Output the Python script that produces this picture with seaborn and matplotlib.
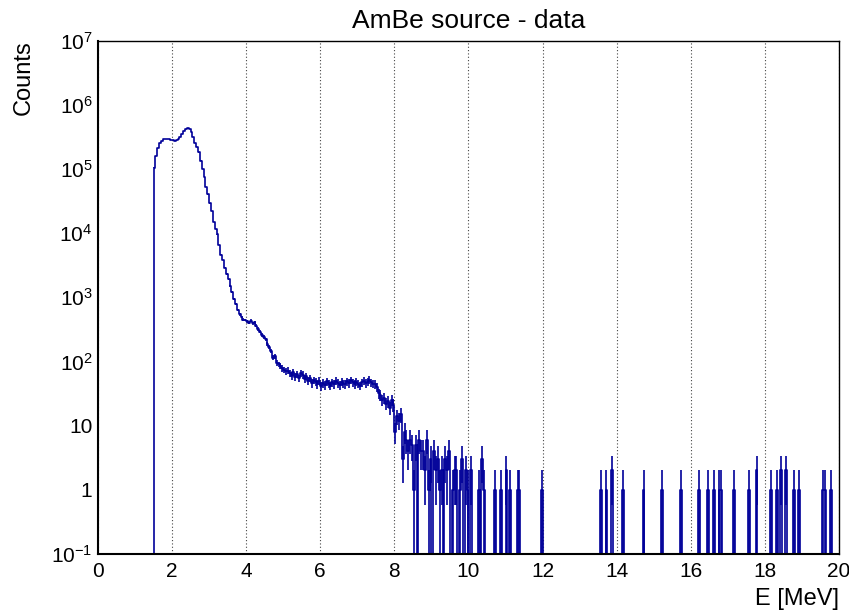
import numpy as np
import pandas as pd
import seaborn as sns
import matplotlib
matplotlib.use("Agg")
import matplotlib.pyplot as plt
from matplotlib.ticker import FixedLocator, FuncFormatter, MultipleLocator, LogLocator, NullFormatter

# ---- histogram definition ----
bin_width = 0.05          # MeV
e_min, e_max = 0.0, 20.0

# Counts in consecutive bins starting at 1.50 MeV (through 9.95 MeV)
body_start = 1.5
body_counts = [
    105000, 160000, 210000, 250000, 275000, 290000, 295000, 295000, 290000, 285000,   # 1.50-1.95
    280000, 272000, 278000, 290000, 310000, 350000, 395000, 420000, 435000, 425000,   # 2.00-2.45
    370000, 310000, 250000, 220000, 180000, 135000, 100000, 75000, 52000, 40000,      # 2.50-2.95
    29000, 22000, 15000, 11500, 9500, 6500, 4600, 3800, 2900, 2300,                   # 3.00-3.45
    1900, 1500, 1200, 950, 780, 640, 540, 490, 450, 440,                              # 3.50-3.95
    420, 400, 430, 390, 410, 360, 320, 290, 260, 240,                                 # 4.00-4.45
    220, 190, 170, 145, 115, 120, 95, 90, 86, 78,                                     # 4.50-4.95
    74, 70, 72, 66, 60, 68, 58, 63, 55, 66,                                           # 5.00-5.45
    62, 53, 59, 50, 55, 46, 51, 48, 44, 50,                                           # 5.50-5.95
    41, 46, 43, 49, 45, 42, 47, 44, 50, 46,                                           # 6.00-6.45
    43, 48, 45, 44, 49, 46, 51, 47, 44, 48,                                           # 6.50-6.95
    45, 42, 47, 50, 46, 48, 52, 47, 45, 44,                                           # 7.00-7.45
    40, 32, 30, 25, 27, 22, 24, 19, 25, 21,                                           # 7.50-7.95
    8, 14, 12, 15, 3, 8, 6, 4, 6, 5,                                                  # 8.00-8.45
    1, 5, 0, 6, 4, 4, 2, 6, 1, 3,                                                     # 8.50-8.95
    0, 4, 2, 3, 1, 2, 0, 3, 2, 4,                                                     # 9.00-9.45
    0, 1, 2, 2, 0, 1, 3, 0, 2, 1,                                                     # 9.50-9.95
]

# Sparse high-energy tail: lower bin edge (MeV) and counts
tail_energy = [10.05, 10.25, 10.35, 10.40, 10.70, 10.85, 11.00, 11.10, 11.30, 11.35,
               11.95, 13.55, 13.70, 13.85, 14.15, 14.70, 15.20, 15.70, 16.20, 16.45,
               16.60, 16.75, 16.80, 17.15, 17.55, 17.75, 18.15, 18.30, 18.40, 18.55,
               18.75, 18.90, 19.55, 19.60, 19.75]
tail_counts = [2, 1, 3, 1, 1, 1, 2, 1, 1, 1,
               1, 1, 1, 2, 1, 1, 1, 1, 1, 1,
               1, 1, 1, 1, 1, 2, 1, 1, 2, 2,
               1, 1, 1, 1, 1]

title = "AmBe source - data"
x_label = "E [MeV]"
y_label = "Counts"

# ---- assemble the binned data ----
n_bins = int(round((e_max - e_min) / bin_width))
edges = np.linspace(e_min, e_max, n_bins + 1)
centers = 0.5 * (edges[:-1] + edges[1:])
counts = np.zeros(n_bins)
i0 = int(round((body_start - e_min) / bin_width))
counts[i0:i0 + len(body_counts)] = body_counts
for e, c in zip(tail_energy, tail_counts):
    counts[int(round((e - e_min) / bin_width))] += c
df = pd.DataFrame({"E": centers, "N": counts})

# ---- style ----
sns.set_style("white")
plt.rcParams["font.family"] = ["Liberation Sans", "DejaVu Sans"]
plt.rcParams["mathtext.default"] = "regular"
for key in ["text.color", "axes.labelcolor", "xtick.color", "ytick.color"]:
    plt.rcParams[key] = "black"

line_color = "#000099"

fig = plt.figure(figsize=(8.49, 6.12), dpi=100)
ax = fig.add_axes([0.1154, 0.0948, 0.8728, 0.8390])

sns.histplot(data=df, x="E", weights="N", binwidth=bin_width, binrange=(e_min, e_max),
             element="step", fill=False, color=line_color, linewidth=1.2, ax=ax)
ax.set_yscale("log")

nz = df[df["N"] > 0]
ax.errorbar(nz["E"], nz["N"], yerr=np.sqrt(nz["N"]), fmt="none",
            ecolor=line_color, elinewidth=1.2, capsize=0)

ax.set_xlim(e_min, e_max)
ax.set_ylim(0.1, 1e7)

# x axis: majors every 2 MeV, minors every 0.5 MeV
ax.xaxis.set_major_locator(MultipleLocator(2))
ax.xaxis.set_minor_locator(MultipleLocator(0.5))
ax.xaxis.set_major_formatter(FuncFormatter(lambda v, p: f"{v:g}"))

# y axis: decades with ROOT-like labels
def ylab(v, p):
    k = int(round(np.log10(v)))
    if k == 0:
        return "1"
    if k == 1:
        return "10"
    return f"$10^{{{k}}}$"

ax.yaxis.set_major_locator(FixedLocator([10.0 ** k for k in range(-1, 8)]))
ax.yaxis.set_major_formatter(FuncFormatter(ylab))
ax.yaxis.set_minor_locator(LogLocator(base=10, subs=np.arange(2, 10), numticks=20))
ax.yaxis.set_minor_formatter(NullFormatter())

ax.tick_params(axis="both", which="both", direction="in", colors="black",
               top=False, right=False, labelsize=15)
ax.tick_params(axis="y", which="major", length=15, width=1.0, pad=4)
ax.tick_params(axis="y", which="minor", length=7, width=1.0)
ax.tick_params(axis="x", which="major", length=11.5, width=1.0, pad=6)
ax.tick_params(axis="x", which="minor", length=5.5, width=1.0)

ax.grid(False)
ax.grid(axis="x", which="major", linestyle=(0, (1, 2)), color="#444444", linewidth=0.8)

for side in ["left", "bottom"]:
    ax.spines[side].set_linewidth(1.5)
for side in ["top", "right"]:
    ax.spines[side].set_linewidth(1.0)
for s in ax.spines.values():
    s.set_color("black")

ax.set_xlabel(x_label, fontsize=17, loc="right", labelpad=5)
ax.set_ylabel(y_label, fontsize=17, loc="top", labelpad=12)
ax.set_title(title, fontsize=19, pad=9)

fig.savefig("out.png", dpi=100, facecolor="white")
